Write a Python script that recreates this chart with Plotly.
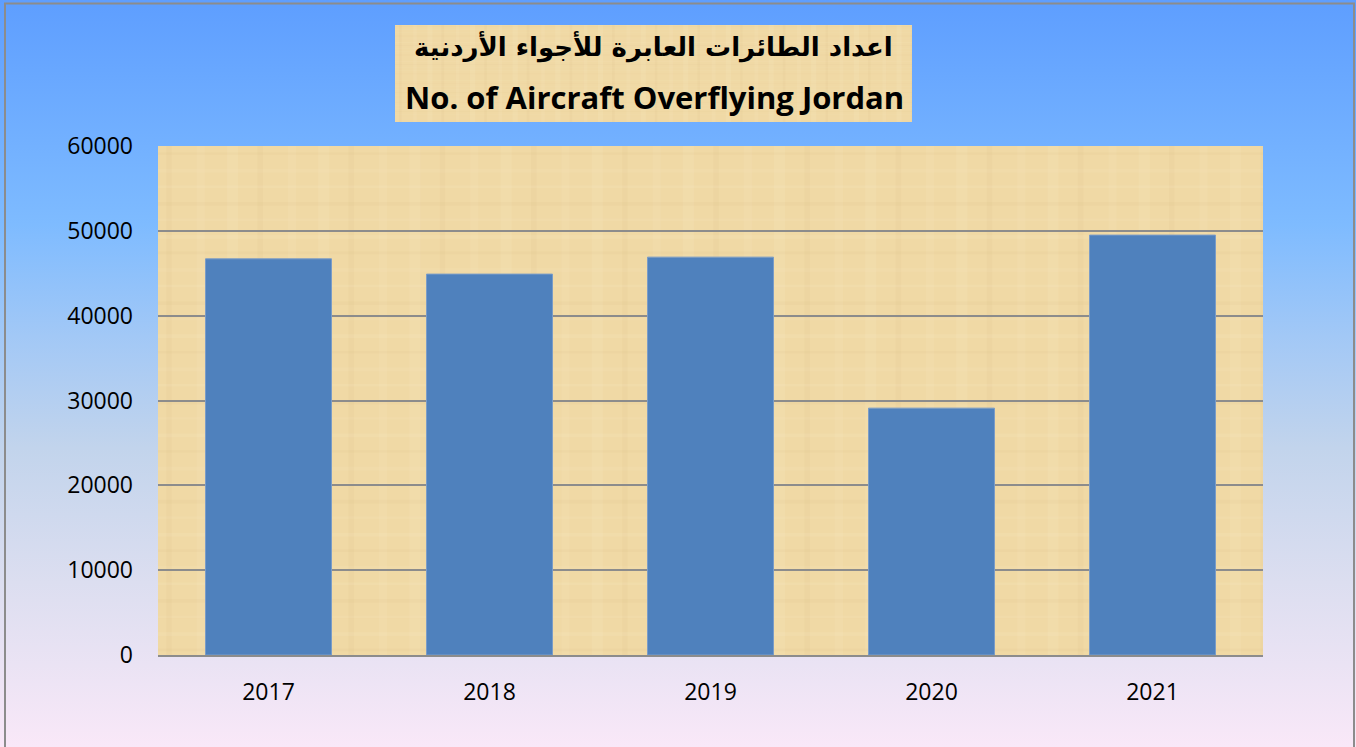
import plotly.graph_objects as go
import base64

years = ["2017", "2018", "2019", "2020", "2021"]
aircraft = [46700, 44900, 46900, 29100, 49500]
y_ticks = [0, 10000, 20000, 30000, 40000, 50000, 60000]

title_ar = "اعداد الطائرات العابرة للأجواء الأردنية"
title_en = "No. of Aircraft Overflying Jordan"

W, H = 1356, 747
L, R, T, B = 158, 93, 146, 92
pw, ph = W - L - R, H - T - B


def svg_uri(svg):
    return "data:image/svg+xml;base64," + base64.b64encode(svg.encode()).decode()


grad_svg = (
    '<svg xmlns="http://www.w3.org/2000/svg" width="100" height="100" preserveAspectRatio="none">'
    '<defs><linearGradient id="g" x1="0" y1="0" x2="0" y2="1">'
    '<stop offset="0" stop-color="#5E9EFF"/>'
    '<stop offset="0.3" stop-color="#7EBBFF"/>'
    '<stop offset="0.45" stop-color="#A2C8F6"/>'
    '<stop offset="0.6" stop-color="#C2D4EC"/>'
    '<stop offset="0.78" stop-color="#DCDEF0"/>'
    '<stop offset="1" stop-color="#F9E8F8"/>'
    '</linearGradient></defs>'
    '<rect width="100" height="100" fill="url(#g)"/></svg>'
)

# papyrus-like texture: base tan with faint fibres
lines = []
for i, x in enumerate(range(3, 400, 11)):
    op = 0.05 + 0.03 * (i % 3)
    col = "#C8A55E" if i % 3 == 0 else "#FFF6DA"
    lines.append(f'<rect x="{x}" y="0" width="{2 + i % 3}" height="400" fill="{col}" opacity="{op}"/>')
for j, y in enumerate(range(5, 400, 13)):
    op = 0.05 + 0.03 * (j % 3)
    col = "#FFF6DA" if j % 3 else "#C8A55E"
    lines.append(f'<rect x="0" y="{y}" width="400" height="{2 + j % 2}" fill="{col}" opacity="{op}"/>')
tex_svg = (
    '<svg xmlns="http://www.w3.org/2000/svg" width="400" height="400" preserveAspectRatio="none">'
    '<rect width="400" height="400" fill="#F0D9A5"/>' + "".join(lines) + '</svg>'
)

fig = go.Figure(
    go.Bar(
        x=years,
        y=aircraft,
        marker=dict(color="#4F81BD", line=dict(color="#7A9CC8", width=1)),
        width=0.57,
        hoverinfo="x+y",
    )
)

px_x = lambda p: (p - L) / pw
px_y = lambda p: 1 - (p - T) / ph

fig.update_layout(
    width=W,
    height=H,
    margin=dict(l=L, r=R, t=T, b=B),
    paper_bgcolor="rgba(0,0,0,0)",
    plot_bgcolor="rgba(0,0,0,0)",
    showlegend=False,
    font=dict(family="Open Sans", size=22, color="#000000"),
    images=[
        dict(source=svg_uri(grad_svg), xref="paper", yref="paper",
             x=px_x(0), y=px_y(0), sizex=W / pw, sizey=H / ph,
             sizing="stretch", layer="below", xanchor="left", yanchor="top"),
        dict(source=svg_uri(tex_svg), xref="paper", yref="paper",
             x=0, y=1, sizex=1, sizey=1,
             sizing="stretch", layer="below", xanchor="left", yanchor="top"),
        dict(source=svg_uri(tex_svg), xref="paper", yref="paper",
             x=px_x(395), y=px_y(25), sizex=(912 - 395) / pw, sizey=(122 - 25) / ph,
             sizing="stretch", layer="below", xanchor="left", yanchor="top"),
    ],
    shapes=[
        dict(type="rect", xref="paper", yref="paper",
             x0=px_x(5), x1=px_x(1354), y0=px_y(3.5), y1=px_y(760),
             line=dict(color="#8C8C8C", width=2), fillcolor="rgba(0,0,0,0)", layer="above"),
    ],
    annotations=[
        dict(text="<b>" + title_ar + "</b>", xref="paper", yref="paper",
             x=px_x(653), y=px_y(47), showarrow=False,
             font=dict(family="DejaVu Sans", size=26, color="#000000"),
             xanchor="center", yanchor="middle"),
        dict(text="<b>" + title_en + "</b>", xref="paper", yref="paper",
             x=px_x(654), y=px_y(97), showarrow=False,
             font=dict(family="Open Sans", size=31, color="#000000"),
             xanchor="center", yanchor="middle"),
    ],
    xaxis=dict(
        showgrid=False,
        showline=True, linecolor="#8C8C8C", linewidth=2,
        ticks="", ticklabelstandoff=15,
        tickfont=dict(family="Open Sans", size=23),
    ),
    yaxis=dict(
        range=[0, 60000],
        tickvals=y_ticks,
        ticktext=[str(v) for v in y_ticks],
        showgrid=True, gridcolor="#8C8C8C", gridwidth=2,
        showline=False, zeroline=False,
        ticks="", ticklabelstandoff=24,
        tickfont=dict(family="Open Sans", size=23),
    ),
)

fig.write_html(
    "out.html",
    config={"displayModeBar": False},
    post_script="document.body.style.margin='0';document.body.style.overflow='hidden';",
)
